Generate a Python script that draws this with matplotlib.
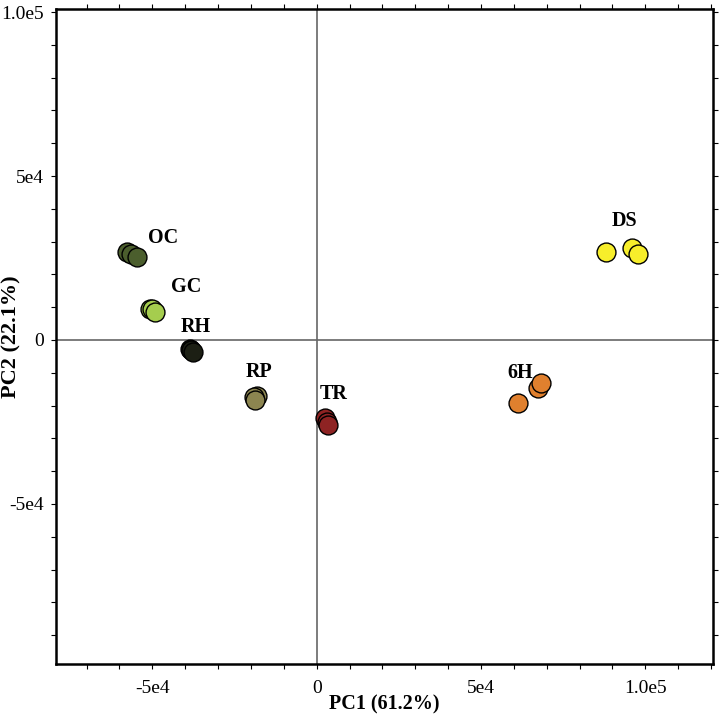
import numpy as np
import matplotlib.pyplot as plt
from matplotlib.ticker import MultipleLocator, FixedFormatter, FixedLocator

plt.rcParams['font.family'] = ['Liberation Serif', 'DejaVu Serif']

# 样本组
groups = ["OC", "GC", "RH", "RP", "TR", "DS", "6H"]
colors_grp = ["#4b5e2d", "#a5cd4e", "#1c1f14", "#8c8550", "#8e2323", "#f7ee2b", "#e0802e"]

# PCA 得分 (PC1, PC2)
pc1 = {
    "OC": [-57600, -56400, -54600],
    "GC": [-50600, -50100, -49100],
    "RH": [-38600, -38200, -37600],
    "RP": [-18300, -19100, -18900],
    "TR": [2400, 3050, 3350],
    "DS": [88100, 96000, 97800],
    "6H": [61200, 67300, 68300],
}
pc2 = {
    "OC": [26800, 26200, 25300],
    "GC": [9400, 9300, 8500],
    "RH": [-2900, -3200, -3600],
    "RP": [-17100, -17500, -18300],
    "TR": [-23800, -25000, -25900],
    "DS": [26900, 28000, 26200],
    "6H": [-19100, -14700, -13000],
}
# 标签位置
label_xy = {
    "OC": (-46700, 31000),
    "GC": (-39600, 16300),
    "RH": (-36900, 4000),
    "RP": (-17500, -9700),
    "TR": (5300, -16500),
    "DS": (93700, 36400),
    "6H": (62000, -10200),
}

fig = plt.figure(figsize=(7.21, 7.23), dpi=100)
ax = fig.add_axes([0.0777, 0.0816, 0.9113, 0.9054])

ax.axhline(0, color='#666666', lw=1.2, zorder=1)
ax.axvline(0, color='#666666', lw=1.2, zorder=1)

for g, c in zip(groups, colors_grp):
    ax.scatter(pc1[g], pc2[g], s=185, c=c, edgecolors='black', linewidths=1.0, zorder=3)
    lx, ly = label_xy[g]
    ax.text(lx, ly, g, ha='center', va='center', fontsize=14.5, fontweight='bold', zorder=4)

ax.set_xlim(-79300, 120600)
ax.set_ylim(-98800, 100800)

ax.xaxis.set_major_locator(FixedLocator([-50000, 0, 50000, 100000]))
ax.xaxis.set_major_formatter(FixedFormatter(["-5e4", "0", "5e4", "1.0e5"]))
ax.yaxis.set_major_locator(FixedLocator([-50000, 0, 50000, 100000]))
ax.yaxis.set_major_formatter(FixedFormatter(["-5e4", "0", "5e4", "1.0e5"]))
ax.xaxis.set_minor_locator(MultipleLocator(10000))
ax.yaxis.set_minor_locator(MultipleLocator(10000))

ax.tick_params(which='both', direction='out', length=3.5, width=0.8,
               top=True, right=True, labelsize=14)
ax.tick_params(axis='y', pad=5)
ax.tick_params(axis='x', pad=8)
for sp in ax.spines.values():
    sp.set_linewidth(1.8)

ax.set_xlabel("PC1 (61.2%)", fontsize=14.5, fontweight='bold')
ax.xaxis.set_label_coords(0.499, -0.046)
ax.set_ylabel("PC2 (22.1%)", fontsize=16, fontweight='bold')
ax.yaxis.set_label_coords(-0.053, 0.5)

plt.savefig('out.png', dpi=100)
